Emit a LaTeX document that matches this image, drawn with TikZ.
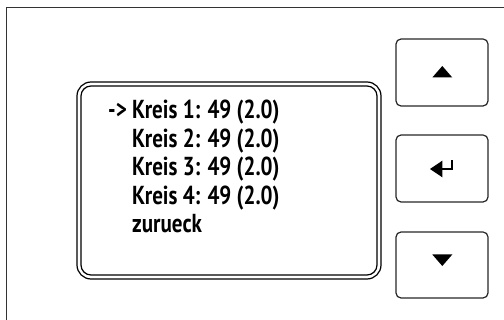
\documentclass[tikz,border=0pt]{standalone}
\usepackage{fontspec}
\setmainfont{PT Sans}[FakeStretch=0.81]
\begin{document}
\begin{tikzpicture}[x=1pt,y=-1pt,
  frameline/.style={draw=black!80,line width=1.5pt},
  screen/.style={draw=black,line width=1.2pt},
  btn/.style={draw=black!85,line width=1.2pt,rounded corners=5pt},
  menutext/.style={anchor=base west,inner sep=0pt,font=\bfseries\fontsize{26}{30}\selectfont},
  sym/.style={fill=black,draw=none}]
\useasboundingbox (0,0) rectangle (504,320);
% outer frame
\draw[frameline] (6.5,330) -- (6.5,7.5) -- (514,7.5);
% display
\draw[screen,rounded corners=14pt] (77,82) rectangle (381,279);
\draw[screen,rounded corners=10pt] (81,86) rectangle (377,275);
\node[menutext] (l1) at (132,119) {\llap{->\ }Kreis 1: 49 (2.0)};
\node[menutext] (l2) at (132,147.5) {Kreis 2: 49 (2.0)};
\node[menutext] (l3) at (132,176) {Kreis 3: 49 (2.0)};
\node[menutext] (l4) at (132,204.5) {Kreis 4: 49 (2.0)};
\node[menutext] (l5) at (132,233) {zurueck};
% buttons
\draw[btn] (396,39) rectangle (488,106);
\draw[btn] (396,135) rectangle (488,202);
\draw[btn] (396,232) rectangle (488,298);
% symbols
\fill[sym] (432.3,77.5) -- (442.3,66) -- (452.3,77.5) -- cycle;
\fill[sym] (432.3,254.5) -- (442.3,266) -- (452.3,254.5) -- cycle;
\fill[sym] (430,169) -- (442.3,160.7) -- (442.3,177.3) -- cycle;
\draw[line width=2pt] (442,169) -- (451.5,169) -- (451.5,160.5);
\end{tikzpicture}
\end{document}
